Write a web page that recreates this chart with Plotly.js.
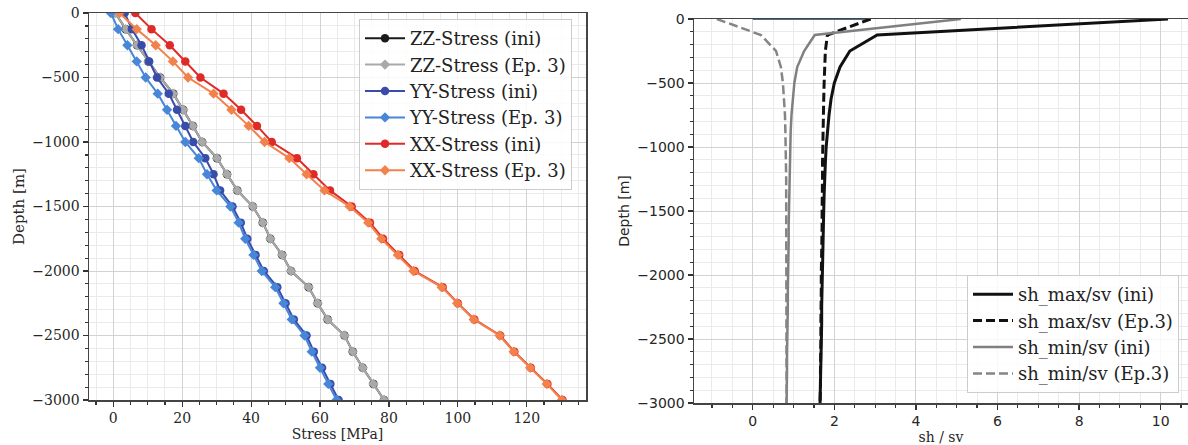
<!DOCTYPE html>
<html>
<head>
<meta charset="utf-8">
<script src="https://cdn.plot.ly/plotly-3.0.1.min.js"></script>
<style>html,body{margin:0;padding:0;background:#fff;}#chart{width:1188px;height:445px;}</style>
</head>
<body>
<div id="chart"></div>
<script>
// ---- data ----
const depth = [0, -125, -250, -375, -500, -625, -750, -875, -1000, -1125, -1250, -1375, -1500,
               -1625, -1750, -1875, -2000, -2125, -2250, -2375, -2500, -2625, -2750, -2875, -3000];

const zzIni = [0.6, 3.6, 6.9, 10.2, 13.6, 17.4, 20.3, 23.1, 25.8, 30.1, 33.0, 36.0, 40.5,
               43.4, 45.6, 49.0, 51.6, 56.7, 59.3, 62.2, 67.1, 69.5, 72.4, 75.5, 78.6];
const zzEp3 = [0.6, 3.6, 6.9, 10.2, 13.6, 17.4, 20.3, 23.1, 25.8, 30.1, 33.0, 36.0, 40.5,
               43.4, 45.6, 49.0, 51.6, 56.7, 59.3, 62.2, 67.1, 69.5, 72.4, 75.5, 78.6];
const yyIni = [3.3, 5.4, 8.2, 10.4, 12.7, 16.1, 18.5, 20.9, 23.2, 26.7, 29.1, 31.0, 34.6,
               37.0, 38.9, 41.3, 43.7, 47.6, 50.0, 52.4, 56.1, 58.2, 60.6, 63.0, 65.4];
const yyEp3 = [-0.7, 1.4, 4.1, 6.8, 9.4, 12.9, 15.6, 18.2, 20.9, 24.8, 27.2, 30.0, 34.0,
               36.4, 38.3, 40.7, 43.1, 47.0, 49.4, 51.8, 55.5, 57.6, 60.0, 62.4, 64.8];
const xxIni = [6.4, 11.1, 16.4, 20.9, 25.3, 32.0, 37.1, 41.7, 46.0, 53.3, 58.1, 62.9, 69.2,
               74.5, 78.3, 83.0, 87.5, 95.6, 100.0, 104.8, 112.3, 116.4, 121.2, 126.0, 130.4];
const xxEp3 = [1.8, 6.8, 12.3, 17.3, 21.7, 29.1, 34.3, 39.3, 43.9, 51.1, 56.1, 61.3, 68.6,
               74.0, 77.8, 82.6, 87.1, 95.3, 99.8, 104.6, 112.1, 116.2, 121.0, 125.8, 130.2];

const shMaxIni = [10.18, 3.05, 2.38, 2.14, 2.00, 1.92, 1.87, 1.83, 1.80, 1.78, 1.76, 1.75, 1.74,
                  1.73, 1.72, 1.71, 1.71, 1.70, 1.69, 1.69, 1.68, 1.67, 1.67, 1.66, 1.65];
const shMaxEp3 = [2.89, 1.83, 1.78, 1.76, 1.75, 1.74, 1.73, 1.72, 1.72, 1.71, 1.71, 1.70, 1.70,
                  1.70, 1.69, 1.69, 1.68, 1.68, 1.67, 1.67, 1.67, 1.66, 1.66, 1.66, 1.65];
const shMinIni = [5.10, 1.52, 1.26, 1.09, 1.02, 0.98, 0.95, 0.93, 0.92, 0.91, 0.90, 0.89, 0.89,
                  0.88, 0.88, 0.87, 0.87, 0.86, 0.86, 0.85, 0.85, 0.84, 0.84, 0.83, 0.83];
const shMinEp3 = [-0.88, 0.20, 0.57, 0.69, 0.74, 0.77, 0.79, 0.80, 0.81, 0.81, 0.82, 0.82, 0.82,
                  0.82, 0.83, 0.83, 0.83, 0.83, 0.83, 0.83, 0.83, 0.83, 0.83, 0.83, 0.83];

const surfX = [0, 2.89];
const surfY = [0, 0];

const leftNames = ['ZZ-Stress (ini)', 'ZZ-Stress (Ep. 3)', 'YY-Stress (ini)', 'YY-Stress (Ep. 3)', 'XX-Stress (ini)', 'XX-Stress (Ep. 3)'];
const rightNames = ['sh_max/sv (ini)', 'sh_max/sv (Ep.3)', 'sh_min/sv (ini)', 'sh_min/sv (Ep.3)'];

// ---- styles ----
const leftSeries = [zzIni, zzEp3, yyIni, yyEp3, xxIni, xxEp3];
const leftColors = ['#1a1a1a', '#a9a9a9', '#3a4caa', '#4886d8', '#df2b28', '#f2814c'];
const leftSymbols = ['circle', 'diamond', 'circle', 'diamond', 'circle', 'diamond'];

const rightSeries = [shMaxIni, shMaxEp3, shMinIni, shMinEp3];
const rightColors = ['#111111', '#111111', '#808080', '#858585'];
const rightDash = ['solid', '9px,4px', 'solid', '9px,4px'];
const rightWidth = [3, 3, 2.5, 2.5];

const traces = [];
leftSeries.forEach((s, i) => {
  traces.push({
    type: 'scatter', mode: 'lines+markers', x: s, y: depth, name: leftNames[i],
    xaxis: 'x', yaxis: 'y', legend: 'legend', legendgroup: 'L' + i,
    line: {color: leftColors[i], width: 2},
    marker: {color: leftColors[i], symbol: leftSymbols[i], size: leftSymbols[i] === 'diamond' ? 8 : 8.5}
  });
});
traces.push({
  type: 'scatter', mode: 'lines', x: surfX, y: surfY, xaxis: 'x2', yaxis: 'y2',
  showlegend: false, line: {color: '#4a6d96', width: 2}, hoverinfo: 'skip'
});
rightSeries.forEach((s, i) => {
  traces.push({
    type: 'scatter', mode: 'lines', x: s, y: depth, name: rightNames[i],
    xaxis: 'x2', yaxis: 'y2', legend: 'legend2', legendgroup: 'R' + i,
    line: {color: rightColors[i], width: rightWidth[i], dash: rightDash[i]}
  });
});

const W = 1188, H = 445;
const gridMajor = '#d2d2d2', gridMinor = '#eaeaea', spine = '#444444';
function axisBase() {
  return {
    ticks: 'outside', ticklen: 5, tickwidth: 1.2, tickcolor: '#333',
    showline: true, linecolor: spine, linewidth: 1.5, mirror: true,
    showgrid: true, gridcolor: gridMajor, gridwidth: 1, zeroline: false,
    tickfont: {family: 'DejaVu Serif', size: 14, color: '#262626'}
  };
}

const layout = {
  width: W, height: H,
  margin: {l: 0, r: 0, t: 0, b: 0},
  paper_bgcolor: '#ffffff', plot_bgcolor: '#ffffff',
  font: {family: 'DejaVu Serif', size: 14, color: '#262626'},
  xaxis: Object.assign(axisBase(), {
    domain: [89 / W, 586 / W], range: [-7.05, 137.2], tick0: 0, dtick: 20, anchor: 'y',
    minor: {dtick: 5, ticks: 'outside', ticklen: 3, tickcolor: '#333', showgrid: true, gridcolor: gridMinor, gridwidth: 1},
    title: {text: 'Stress [MPa]', font: {family: 'DejaVu Serif', size: 14, color: '#262626'}, standoff: 0}
  }),
  yaxis: Object.assign(axisBase(), {
    domain: [1 - 400 / H, 1 - 13 / H], range: [-3000, 0], tick0: 0, dtick: 500, anchor: 'x',
    minor: {dtick: 100, ticks: 'outside', ticklen: 3, tickcolor: '#333', showgrid: true, gridcolor: gridMinor, gridwidth: 1},
    title: {text: 'Depth [m]', font: {family: 'DejaVu Serif', size: 15, color: '#262626'}, standoff: 4}
  }),
  xaxis2: Object.assign(axisBase(), {
    domain: [694 / W, 1], range: [-1.44, 10.67], tick0: 0, dtick: 2, anchor: 'y2', layer: 'below traces',
    tickfont: {family: 'DejaVu Sans', size: 14, color: '#262626'},
    minor: {dtick: 0.5, ticks: 'outside', ticklen: 3, tickcolor: '#333', showgrid: true, gridcolor: gridMinor, gridwidth: 1},
    title: {text: 'sh / sv', font: {family: 'DejaVu Serif', size: 14, color: '#262626'}, standoff: 2}
  }),
  yaxis2: Object.assign(axisBase(), {
    domain: [1 - 403 / H, 1 - 19 / H], range: [-3000, 0], tick0: 0, dtick: 500, anchor: 'x2',
    tickfont: {family: 'DejaVu Sans', size: 14, color: '#262626'},
    minor: {dtick: 100, ticks: 'outside', ticklen: 3, tickcolor: '#333', showgrid: true, gridcolor: gridMinor, gridwidth: 1},
    title: {text: 'Depth [m]', font: {family: 'DejaVu Sans', size: 14, color: '#262626'}, standoff: 4}
  }),
  legend: {
    x: 359 / W, y: 1 - 19 / H, xanchor: 'left', yanchor: 'top', itemwidth: 40,
    bgcolor: 'rgba(255,255,255,0.85)', bordercolor: '#cccccc', borderwidth: 1,
    font: {family: 'DejaVu Serif', size: 18, color: '#222'}, tracegroupgap: 0
  },
  legend2: {
    x: 1179 / W, y: 1 - 393 / H, xanchor: 'right', yanchor: 'bottom', itemwidth: 40,
    bgcolor: 'rgba(255,255,255,0.85)', bordercolor: '#cccccc', borderwidth: 1,
    font: {family: 'DejaVu Serif', size: 18, color: '#222'}, tracegroupgap: 0
  }
};

Plotly.newPlot('chart', traces, layout, {displayModeBar: false, staticPlot: true});
</script>
</body>
</html>
